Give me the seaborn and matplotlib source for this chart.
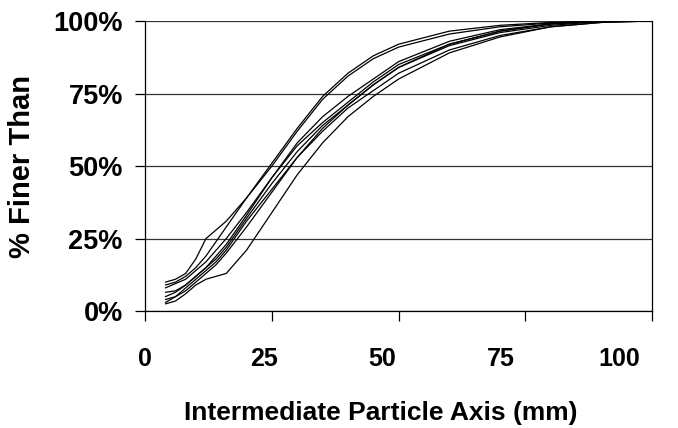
import matplotlib
matplotlib.use("Agg")
import matplotlib.pyplot as plt
import seaborn as sns
import pandas as pd
from matplotlib.ticker import PercentFormatter, FixedLocator, FixedFormatter, NullFormatter

# particle size (mm) at which each cumulative value was read
sizes = [4, 6, 8, 10, 12, 14, 16, 20, 25, 30, 35, 40, 45, 50, 60, 70, 80, 90, 100]

# % finer than, one list per sample
s1 = [10, 11, 13, 18, 25, 28, 31, 39, 50, 62, 73, 81, 87, 91, 95.5, 98, 99.3, 100, 100]
s2 = [9, 10, 12, 15, 19, 24, 29, 39, 51, 63, 74, 82, 88, 92, 96.5, 98.5, 99.5, 100, 100]
s3 = [6.5, 7, 9, 12, 15, 19, 23, 33, 46, 57, 65, 72, 79, 85, 92, 96.5, 99, 100, 100]
s4 = [5, 6.5, 9, 12, 15, 18, 22, 32, 44, 55, 64, 71, 78, 84, 91.5, 96, 98.5, 99.8, 100]
s5 = [3, 5, 8, 11, 14, 17, 21, 31, 42, 53, 62, 70, 76, 82, 90, 95, 98, 99.5, 100]
s6 = [2.5, 3.5, 6, 9, 11, 12, 13, 21, 34, 47, 58, 67, 74, 80, 89, 94.5, 98, 99.5, 100]
s7 = [8, 9.5, 11, 14, 17, 21, 25, 34, 46, 58, 67, 74, 80, 86, 93, 97, 99, 100, 100]
s8 = [4, 5, 7, 10, 13, 16, 20, 29, 41, 53, 63, 71, 78, 84, 92, 96.5, 99, 100, 100]
samples = [s1, s2, s3, s4, s5, s6, s7, s8]

xticks = [0, 25, 50, 75, 100]
xtick_labels = ["0", "25", "50", "75", "100"]
yticks = [0, 25, 50, 75, 100]

rows = []
for i, vals in enumerate(samples):
    for x, y in zip(sizes, vals):
        rows.append({"sample": i, "size": x, "finer": y})
df = pd.DataFrame(rows)

sns.set_theme(style="white")
plt.rcParams['font.family'] = ['Liberation Sans', 'DejaVu Sans']
plt.rcParams['text.color'] = 'black'
plt.rcParams['xtick.color'] = 'black'
plt.rcParams['ytick.color'] = 'black'
plt.rcParams['axes.labelcolor'] = 'black'

fig = plt.figure(figsize=(6.78, 4.28), dpi=100)
ax = fig.add_axes([0.214, 0.273, 0.748, 0.678])

sns.lineplot(data=df, x="size", y="finer", units="sample", estimator=None,
             color="black", linewidth=0.9, ax=ax, legend=False)

ax.set_xlim(0, 100)
ax.set_ylim(0, 100)
ax.set_yticks(yticks)
ax.yaxis.set_major_formatter(PercentFormatter(decimals=0))
ax.yaxis.grid(True, color="#333333", linewidth=0.9)
ax.set_axisbelow(True)

# tick marks on the true positions, labels sit slightly to the left as in the scan
ax.xaxis.remove_overlapping_locs = False
ax.xaxis.set_major_locator(FixedLocator(xticks))
ax.xaxis.set_major_formatter(NullFormatter())
ax.xaxis.set_minor_locator(FixedLocator([t * 0.935 for t in xticks]))
ax.xaxis.set_minor_formatter(FixedFormatter(xtick_labels))

for side in ["left", "bottom", "right"]:
    ax.spines[side].set_visible(True)
    ax.spines[side].set_color("black")
    ax.spines[side].set_linewidth(0.9)
ax.spines["top"].set_visible(False)

ax.tick_params(axis="x", which="major", bottom=True, direction="out", length=7, width=0.9)
ax.tick_params(axis="x", which="minor", bottom=True, length=0, labelsize=18, pad=26)
ax.tick_params(axis="y", which="major", left=True, direction="out", length=7, width=0.9,
               labelsize=19.5, pad=9)
for lbl in ax.get_xticklabels(minor=True) + ax.get_yticklabels():
    lbl.set_fontweight("bold")

ax.set_xlabel("Intermediate Particle Axis (mm)", fontsize=19, fontweight="bold")
ax.xaxis.set_label_coords(0.464, -0.31)
ax.set_ylabel("% Finer Than", fontsize=21, fontweight="bold")
ax.yaxis.set_label_coords(-0.215, 0.5)

fig.savefig("out.png", dpi=100)
